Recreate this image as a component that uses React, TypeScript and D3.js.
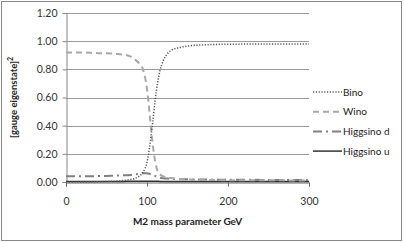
import { useEffect, useRef } from 'react';
import * as d3 from 'd3';

// M2 mass parameter (GeV) sample points
const m2Values = [0, 20, 40, 50, 60, 70, 80, 85, 90, 95, 100, 103, 105, 107, 110, 113, 116, 120, 125, 130, 140, 150, 175, 200, 250, 300];

const bino = [0, 0, 0.002, 0.004, 0.006, 0.01, 0.018, 0.025, 0.04, 0.07, 0.14, 0.24, 0.33, 0.42, 0.58, 0.7, 0.79, 0.86, 0.91, 0.935, 0.955, 0.965, 0.975, 0.978, 0.98, 0.98];
const wino = [0.92, 0.92, 0.915, 0.915, 0.91, 0.905, 0.89, 0.87, 0.845, 0.8, 0.66, 0.5, 0.38, 0.27, 0.15, 0.08, 0.055, 0.04, 0.033, 0.028, 0.022, 0.018, 0.015, 0.013, 0.012, 0.011];
const higgsinoD = [0.04, 0.04, 0.042, 0.043, 0.045, 0.047, 0.05, 0.053, 0.058, 0.063, 0.062, 0.058, 0.054, 0.05, 0.043, 0.036, 0.031, 0.027, 0.024, 0.022, 0.02, 0.019, 0.017, 0.016, 0.015, 0.015];
const higgsinoU = [0.004, 0.004, 0.004, 0.004, 0.004, 0.004, 0.005, 0.005, 0.006, 0.006, 0.006, 0.006, 0.006, 0.005, 0.005, 0.005, 0.004, 0.004, 0.004, 0.004, 0.004, 0.004, 0.004, 0.004, 0.004, 0.004];

const yTicks = [0, 0.2, 0.4, 0.6, 0.8, 1.0, 1.2];
const xTicks = [0, 100, 200, 300];

const seriesNames = ['Bino', 'Wino', 'Higgsino d', 'Higgsino u'];

export default function App() {
  const ref = useRef<SVGSVGElement>(null);

  useEffect(() => {
    if (!ref.current) return;
    const svg = d3.select(ref.current);
    svg.selectAll('*').remove();

    const W = 404, H = 242;
    const margin = { top: 13, right: 95, bottom: 60, left: 66 };
    const font = 'Lato, "Liberation Sans", sans-serif';

    svg.append('rect')
      .attr('x', 1.5).attr('y', 1.5)
      .attr('width', W - 4).attr('height', H - 3)
      .attr('fill', '#fff').attr('stroke', '#888');

    const x = d3.scaleLinear().domain([0, 300]).range([margin.left, W - margin.right]);
    const y = d3.scaleLinear().domain([0, 1.2]).range([H - margin.bottom, margin.top]);

    // gridlines
    svg.append('g')
      .selectAll('line')
      .data(yTicks.filter(t => t > 0))
      .enter()
      .append('line')
      .attr('x1', x(0)).attr('x2', x(300))
      .attr('y1', d => Math.round(y(d)) + 0.5).attr('y2', d => Math.round(y(d)) + 0.5)
      .attr('stroke', '#999').attr('stroke-width', 1);

    // y axis
    const yAxis = svg.append('g')
      .attr('transform', `translate(${Math.round(x(0)) + 0.5},0)`)
      .call(d3.axisLeft(y).tickValues(yTicks).tickFormat(d3.format('.2f')).tickSize(4).tickPadding(5));
    yAxis.select('.domain').attr('stroke', '#888');
    yAxis.selectAll('.tick line').attr('stroke', '#888');
    yAxis.selectAll('text').attr('font-family', font).attr('font-size', 10.5).attr('fill', '#333');

    // x axis
    const xAxis = svg.append('g')
      .attr('transform', `translate(0,${Math.round(y(0)) + 0.5})`)
      .call(d3.axisBottom(x).tickValues(xTicks).tickFormat(d3.format('d')).tickSize(4).tickPadding(11));
    xAxis.select('.domain').attr('stroke', '#666');
    xAxis.selectAll('.tick line').attr('stroke', '#666');
    xAxis.selectAll('text').attr('font-family', font).attr('font-size', 10.5).attr('fill', '#333');

    // titles
    svg.append('text')
      .attr('x', (x(0) + x(300)) / 2).attr('y', 225)
      .attr('text-anchor', 'middle')
      .attr('font-family', font).attr('font-size', 10).attr('font-weight', 'bold').attr('fill', '#222')
      .text('M2 mass parameter GeV');

    const yTitle = svg.append('text')
      .attr('transform', `translate(17,${(y(0) + y(1.2)) / 2}) rotate(-90)`)
      .attr('text-anchor', 'middle')
      .attr('font-family', font).attr('font-size', 9.5).attr('font-weight', 'bold').attr('fill', '#222');
    yTitle.append('tspan').text('[gauge eigenstate]');
    yTitle.append('tspan').attr('font-size', 7).attr('dy', -4).text('2');

    const styles = [
      { color: '#555', width: 1.5, dash: '1.2 1.6' },
      { color: '#a8a8a8', width: 2, dash: '6 4' },
      { color: '#808080', width: 2, dash: '9 4 2 4' },
      { color: '#333', width: 1.5, dash: null as string | null },
    ];
    const data = [bino, wino, higgsinoD, higgsinoU];

    const line = d3.line<number>()
      .x((_, i) => x(m2Values[i]))
      .y(d => y(d))
      .curve(d3.curveMonotoneX);

    // draw Higgsino u first so others stay visible
    [3, 2, 1, 0].forEach(i => {
      svg.append('path')
        .datum(data[i])
        .attr('d', line)
        .attr('fill', 'none')
        .attr('stroke', styles[i].color)
        .attr('stroke-width', styles[i].width)
        .attr('stroke-dasharray', styles[i].dash);
    });

    // legend
    const legend = svg.append('g');
    seriesNames.forEach((name, i) => {
      const ly = 92 + i * 19.7;
      legend.append('line')
        .attr('x1', 313).attr('x2', 342)
        .attr('y1', ly).attr('y2', ly)
        .attr('stroke', styles[i].color)
        .attr('stroke-width', styles[i].width)
        .attr('stroke-dasharray', styles[i].dash);
      legend.append('text')
        .attr('x', 343).attr('y', ly + 3.5)
        .attr('font-family', font).attr('font-size', 10).attr('fill', '#222')
        .text(name);
    });
  }, []);

  return (
    <svg ref={ref} width={404} height={242} style={{ position: 'absolute', left: 0, top: 0 }} />
  );
}
